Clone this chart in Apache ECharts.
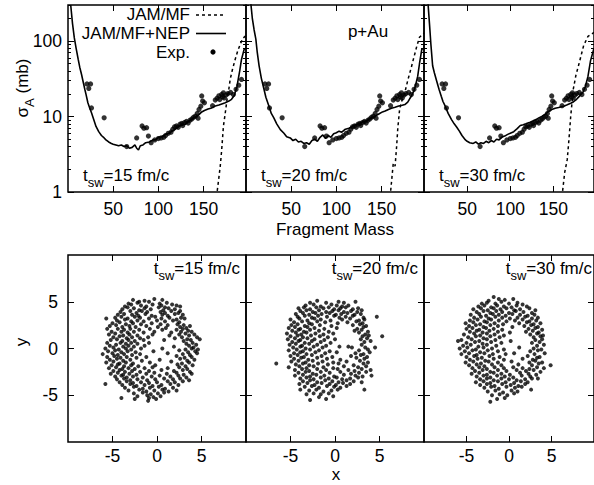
<!DOCTYPE html>
<html><head><meta charset="utf-8">
<script src="https://cdn.jsdelivr.net/npm/echarts@6/dist/echarts.min.js"></script>
<style>html,body{margin:0;padding:0;background:#fff}#c{width:594px;height:485px}</style>
</head><body><div id="c"></div>
<script>
// ---------- data ----------
const massTicks = [50, 100, 150];
const sigmaTicks = [1, 10, 100];
const sigmaMinorTicks = [2,3,4,5,6,7,8,9,20,30,40,50,60,70,80,90,200,300];
const posTicks = [-5, 0, 5];
const switchTimes = ['15', '20', '30'];
const legendNames = ['JAM/MF', 'JAM/MF+NEP', 'Exp.'];

const expData = [[21,27],[23,23.5],[25,27],[26,13],[40,9.6],[65,4.0],[76,5.2],[82,7.5],[84,7.0],[87,7.1],[89,5.5],[92,4.5],[96,4.9],[100,5.1],[103,5.2],[106,5.3],[108,5.6],[111,6.0],[114,6.2],[116,6.8],[118,7.3],[120,7.5],[122,7.2],[124,7.9],[126,8.1],[127,7.6],[129,8.3],[131,8.6],[133,8.2],[135,8.9],[137,9.3],[139,9.8],[141,10.1],[143,11.0],[144,9.5],[145,12.4],[147,13.7],[148,18.7],[149,16.0],[151,15.2],[160,13.9],[163,16.5],[165,17.5],[167,18.8],[168,16.8],[170,19.5],[171,18.2],[172,20.6],[173,17.6],[175,19.2],[177,20.1],[180,20.8],[183,19.5],[186,22.9],[189,26],[192,31]];

const mf15 = [[163,0.5],[165,1.0],[166.7,1.45],[168.5,2.2],[170,3.5],[172,7.4],[174,11],[176,16.9],[178,23],[179.5,31],[182,42],[185,57],[188,75],[191.5,96],[194,110],[197,118]];
const mf20 = [[159,0.6],[160,1.0],[162,1.8],[163,2.4],[165,2.2],[166.7,4],[168,7],[170,12.4],[172,15.5],[175.8,20.8],[179,30],[183,45],[186,62],[189,85],[192,112],[197,128]];
const mf30 = [[159,0.6],[160.5,1],[163,1.8],[166,2.7],[168,5],[170,10],[173,23],[176,35],[180,52],[185,87],[190,115],[197,130]];

const nep15 = [[3,300],[5,170],[7,110],[9,80],[11.3,57],[13,45],[15,36],[17,28],[18.6,23],[20,19.5],[22,15.2],[24,13],[26,11.2],[28,9.5],[31,7.4],[34,6.3],[37,5.6],[40,5.2],[42,4.9],[45,4.6],[48,4.4],[50,4.3],[53,4.2],[56,4.1],[59,4.2],[62,4.0],[65,4.1],[68,3.8],[71,3.9],[74,4.2],[76,3.8],[78,3.6],[80,4.1],[83,4.2],[86,4.5],[90,4.6],[94,4.9],[97,4.9],[100,5.3],[104,5.4],[108,5.8],[112,6.0],[115,6.4],[118,6.7],[121,7.1],[124,7.6],[127,7.8],[130,7.9],[133,8.6],[136,9.0],[139,9.5],[142,10.0],[145,10.6],[148,11.5],[151,12.0],[155,12.6],[159,13.0],[163,13.8],[167,14.2],[171,14.8],[174,15.2],[178,16.0],[181,16.9],[184,19],[187,25],[190,40],[192,57],[195,78],[197,80]];
const nep20 = [[5.4,310],[7,200],[9,140],[10.9,106],[12.5,70],[14.5,47],[17,32],[19.9,23],[22,18],[25.4,13.7],[28,11],[30.8,9.6],[34,8.0],[38,6.7],[42,6.0],[45,5.4],[49,5.2],[52,4.8],[55,5.0],[58,4.6],[61,4.7],[64,4.4],[67,4.5],[70,4.3],[73,4.8],[76,5.0],[79,4.7],[82,5.3],[85,5.7],[88,5.1],[91,5.6],[94,5.3],[97,5.9],[100,6.1],[103,6.4],[106,6.2],[110,6.8],[114,7.0],[118,7.4],[121,7.8],[125,8.0],[129,8.5],[133,8.8],[136,9.2],[139.5,9.6],[143,10.1],[147,10.8],[151,11.5],[154,11.8],[157.6,12.4],[161,12.9],[165,13.3],[169,13.8],[172,14.0],[175.8,14.4],[179,15.5],[183,18.7],[186,22],[188,27],[190,34],[192,50],[194.6,78],[197,80]];
const nep30 = [[4.7,310],[6.5,160],[8,90],[10,47],[12,38],[14.5,30],[17.4,23],[20,18.5],[22,15.8],[24.6,13.7],[28,11],[31.9,9.1],[35,8.0],[38,7.2],[41,6.4],[44,5.6],[48,4.9],[50,4.7],[53,4.5],[57,4.4],[60,4.6],[63,4.3],[66,4.5],[69,4.4],[72,4.7],[75,4.5],[78,4.8],[81,4.6],[84,5.0],[87,4.9],[90,5.3],[93.5,5.5],[97,5.8],[100,6.0],[104,6.3],[108,6.9],[111.6,7.6],[115,7.8],[118,8.0],[122,8.3],[126,8.7],[129.7,9.1],[133,9.6],[137,10.1],[141,10.8],[144,11.6],[148,12.4],[152,12.9],[156,13.2],[159,13.5],[162,13.7],[166,14.3],[170,15.0],[173,15.6],[176.8,16.9],[180,18.5],[184,20.8],[187,25],[190,34],[193,55],[197,80]];

const pos15 = [[-2.7,5.2],[-1.4,5.1],[-0.3,5.3],[0.6,5.2],[-2.0,5.0],
[-3.2,4.8],[-2.2,4.9],[-0.9,5.0],[0.3,4.8],[1.1,4.9],[1.7,4.7],
[-3.6,4.5],[-2.9,4.7],[-1.8,4.6],[-1.2,4.5],[-0.5,4.7],[0.5,4.6],[0.9,4.4],[2.2,4.6],[2.6,4.5],
[-3.9,4.2],[-3.3,4.4],[-2.6,4.3],[-2.0,4.1],[-1.4,4.3],[-0.7,4.2],[0.2,4.4],[0.7,4.1],[1.3,4.3],[2.0,4.2],[2.6,4.0],
[-4.1,3.9],[-3.0,4.0],[-2.3,3.8],[-1.7,4.0],[-1.1,3.9],[0.4,3.9],[0.9,3.8],[1.6,4.0],[2.4,3.8],[2.9,3.6],
[-4.4,3.6],[-3.7,3.7],[-2.8,3.6],[-2.1,3.5],[-1.3,3.7],[-0.6,3.5],[0.6,3.6],[1.2,3.5],[2.0,3.7],[2.7,3.3],
[-4.7,3.3],[-4.0,3.4],[-3.3,3.2],[-2.5,3.4],[-1.9,3.3],[-0.9,3.2],[-0.2,3.4],[0.5,3.2],[1.4,3.3],[2.2,3.1],[3.1,3.2],
[-5.7,3.2],[-4.5,3.0],[-3.6,3.1],[-2.9,2.9],[-2.2,3.0],[-1.5,2.9],[0.0,3.0],[0.9,2.9],[1.8,3.0],[2.5,2.8],
[-5.0,2.7],[-4.2,2.8],[-3.5,2.6],[-2.7,2.7],[-1.8,2.6],[-0.6,2.7],[0.4,2.6],[1.2,2.5],[2.3,2.6],[3.0,2.5],
[-5.3,2.4],[-4.6,2.5],[-3.9,2.3],[-3.1,2.4],[-2.4,2.3],[-1.2,2.4],[0.1,2.3],[1.0,2.2],[2.6,2.3],[3.3,2.2],[3.7,2.4],
[-5.6,2.1],[-4.4,2.1],[-3.7,2.0],[-3.0,2.1],[-2.0,2.0],[-0.8,2.1],[0.6,2.0],[2.2,2.0],[2.9,2.1],[3.5,1.9],
[-5.1,1.8],[-4.0,1.8],[-3.3,1.7],[-2.6,1.8],[-1.5,1.7],[-0.3,1.8],[1.6,1.7],[2.7,1.8],[3.2,1.6],[3.9,1.8],
[-5.4,1.5],[-4.7,1.6],[-3.8,1.4],[-3.1,1.5],[-2.2,1.4],[-0.5,1.5],[1.4,1.4],[2.5,1.5],[3.6,1.4],[4.2,1.5],
[-4.9,1.2],[-4.2,1.3],[-3.4,1.1],[-2.8,1.2],[-1.9,1.1],[-1.0,1.2],[2.0,1.1],[2.8,1.2],[3.4,1.0],[4.5,1.2],
[-5.2,0.9],[-4.5,1.0],[-3.9,0.8],[-3.2,0.9],[-2.5,0.8],[-1.5,0.9],[0.8,0.9],[3.0,0.8],[3.8,0.9],[4.8,1.0],
[-5.6,0.6],[-4.1,0.6],[-3.5,0.5],[-2.9,0.6],[-2.2,0.5],[-0.9,0.6],[3.3,0.5],[4.0,0.6],[4.4,0.4],
[-5.3,0.3],[-4.6,0.4],[-3.8,0.2],[-3.2,0.3],[-2.6,0.2],[-1.4,0.3],[1.9,0.2],[3.6,0.3],[4.1,0.1],
[-5.8,0.0],[-4.9,0.1],[-4.3,-0.1],[-3.5,0.0],[-2.9,-0.1],[-1.8,0.0],[0.6,0.0],[3.2,-0.1],[3.9,0.0],[4.6,-0.1],
[-5.5,-0.3],[-4.7,-0.2],[-4.0,-0.4],[-3.3,-0.3],[-2.4,-0.4],[-0.4,-0.3],[2.5,-0.2],[3.5,-0.4],[4.3,-0.3],
[-6.1,-0.6],[-5.0,-0.5],[-4.4,-0.7],[-3.7,-0.6],[-2.8,-0.7],[-1.9,-0.6],[1.2,-0.5],[2.9,-0.6],[3.7,-0.7],[4.5,-0.5],
[-5.6,-0.9],[-4.8,-0.8],[-4.1,-1.0],[-3.4,-0.9],[-2.3,-1.0],[-1.2,-0.9],[2.2,-0.8],[3.1,-1.0],[3.9,-0.9],
[-5.3,-1.2],[-4.5,-1.1],[-3.8,-1.3],[-3.0,-1.2],[-1.7,-1.3],[0.3,-1.2],[2.6,-1.1],[3.4,-1.3],[4.2,-1.2],
[-5.7,-1.5],[-4.9,-1.4],[-4.2,-1.6],[-3.5,-1.5],[-2.7,-1.6],[-0.8,-1.5],[1.6,-1.4],[2.8,-1.6],[3.6,-1.5],
[-5.1,-1.8],[-4.4,-1.7],[-3.7,-1.9],[-2.9,-1.8],[-2.1,-1.9],[-0.2,-1.8],[2.3,-1.7],[3.2,-1.9],[4.0,-1.8],
[-5.4,-2.1],[-4.6,-2.0],[-3.9,-2.2],[-3.2,-2.1],[-2.5,-2.2],[-1.4,-2.1],[-0.5,-2.0],[1.2,-2.1],[2.5,-2.0],[3.4,-2.2],
[-4.9,-2.4],[-4.2,-2.3],[-3.6,-2.5],[-2.8,-2.4],[-1.9,-2.5],[-0.9,-2.4],[0.5,-2.3],[1.9,-2.4],[2.9,-2.3],[3.7,-2.5],
[-5.2,-2.7],[-4.4,-2.6],[-3.8,-2.8],[-3.1,-2.7],[-2.3,-2.8],[-1.2,-2.7],[-0.3,-2.6],[1.1,-2.7],[2.2,-2.6],[3.0,-2.8],[3.9,-2.7],
[-4.7,-3.0],[-4.0,-2.9],[-3.4,-3.1],[-2.7,-3.0],[-1.6,-3.1],[-0.6,-3.0],[0.3,-2.9],[1.5,-3.0],[2.4,-2.9],[3.3,-3.1],
[-4.5,-3.3],[-3.7,-3.2],[-3.0,-3.4],[-2.2,-3.3],[-1.1,-3.4],[-0.2,-3.3],[0.8,-3.2],[1.8,-3.3],[2.6,-3.2],[3.6,-3.4],
[-4.2,-3.6],[-3.4,-3.5],[-2.7,-3.7],[-1.8,-3.6],[-0.9,-3.7],[0.0,-3.6],[1.2,-3.5],[2.0,-3.6],[2.9,-3.5],
[-5.8,-3.8],[-3.9,-3.9],[-3.0,-3.8],[-2.3,-4.0],[-1.4,-3.9],[-0.5,-4.0],[0.5,-3.9],[1.5,-3.8],[2.4,-3.9],
[-3.6,-4.2],[-2.6,-4.1],[-1.6,-4.3],[-0.8,-4.2],[0.2,-4.1],[0.9,-4.3],[1.8,-4.2],
[-3.2,-4.5],[-2.0,-4.4],[-1.2,-4.6],[-0.3,-4.5],[0.6,-4.4],[1.3,-4.6],[2.2,-4.5],
[-2.6,-4.8],[-1.6,-4.7],[-0.7,-4.9],[0.1,-4.8],[0.8,-4.7],
[-2.2,-5.1],[-1.1,-5.0],[-0.4,-5.2],[0.4,-5.1],
[-4.0,-5.3],[-2.5,-5.4],[-0.9,-5.3],[-0.1,-5.4],[-1.0,-5.6]];

const pos20 = [[-2.0,5.1],[-1.0,4.9],[0.4,5.0],[1.0,4.9],[2.3,5.0],[-2.8,4.9],
[-3.3,4.6],[-2.4,4.7],[-1.6,4.5],[-0.4,4.7],[0.2,4.6],[0.8,4.5],[1.5,4.6],
[-4.1,4.3],[-3.5,4.4],[-2.8,4.2],[-2.1,4.4],[-1.3,4.3],[-0.7,4.4],[-0.1,4.2],[0.6,4.3],[1.2,4.4],[2.0,4.2],[2.6,4.3],
[-3.9,4.0],[-3.2,4.1],[-2.5,3.9],[-1.8,4.1],[-1.0,3.9],[-0.3,4.0],[0.4,4.1],[1.0,3.9],[1.8,4.0],[2.5,3.9],[3.0,4.1],
[-4.4,3.7],[-3.6,3.8],[-2.9,3.6],[-2.2,3.8],[-1.5,3.7],[-0.6,3.8],[0.1,3.6],[0.7,3.7],[1.4,3.8],[2.2,3.6],[2.9,3.7],
[-4.2,3.4],[-3.4,3.5],[-2.6,3.3],[-1.9,3.5],[-0.9,3.4],[-0.1,3.5],[0.5,3.3],[1.2,3.4],[2.0,3.5],[3.2,3.3],[4.7,3.4],
[-5.0,3.1],[-4.0,3.2],[-3.1,3.0],[-2.3,3.2],[-1.6,3.1],[-0.5,3.0],[0.8,3.1],[1.7,3.2],[2.7,3.0],[3.3,3.1],
[-4.6,2.8],[-3.7,2.9],[-2.9,2.7],[-2.0,2.9],[-1.1,2.8],[0.3,2.7],[1.4,2.8],[2.4,2.9],[3.1,2.7],
[-4.9,2.5],[-4.2,2.6],[-3.4,2.4],[-2.6,2.6],[-1.7,2.5],[-0.4,2.4],[2.0,2.5],[2.8,2.6],[3.5,2.4],
[-5.2,2.2],[-4.5,2.3],[-3.9,2.1],[-3.1,2.3],[-2.3,2.2],[-1.2,2.1],[0.2,2.2],[2.5,2.1],[3.2,2.3],
[-4.8,1.9],[-4.1,2.0],[-3.5,1.8],[-2.8,2.0],[-1.8,1.9],[-0.7,1.8],[2.2,1.9],[3.0,2.0],[3.7,1.8],
[-5.4,1.6],[-4.4,1.7],[-3.8,1.5],[-3.2,1.7],[-2.2,1.6],[-1.3,1.5],[-0.2,1.6],[2.7,1.7],[3.4,1.5],
[-5.0,1.3],[-4.2,1.4],[-3.6,1.2],[-2.7,1.4],[-1.7,1.3],[-0.8,1.2],[3.1,1.3],[3.8,1.4],[5.3,1.3],
[-5.3,1.0],[-4.5,1.1],[-3.9,0.9],[-3.1,1.1],[-2.3,1.0],[-1.2,0.9],[0.0,1.0],[2.9,1.0],[3.6,1.1],
[-4.8,0.7],[-4.1,0.8],[-3.4,0.6],[-2.6,0.8],[-1.6,0.7],[-0.5,0.6],[3.3,0.7],[4.0,0.8],
[-5.1,0.4],[-4.4,0.5],[-3.7,0.3],[-2.9,0.5],[-2.0,0.4],[-1.0,0.3],[3.0,0.4],[4.5,0.1],
[-4.7,0.1],[-3.9,0.2],[-3.3,0.0],[-2.4,0.2],[-1.4,0.1],[0.5,0.2],[1.5,0.2],[1.9,0.1],[3.4,0.1],
[-5.2,-0.2],[-4.3,-0.1],[-3.6,-0.3],[-2.8,-0.1],[-1.8,-0.2],[-0.6,-0.3],[2.7,-0.2],[3.7,-0.1],
[-4.6,-0.5],[-3.9,-0.4],[-3.2,-0.6],[-2.2,-0.4],[-1.1,-0.5],[0.2,-0.4],[2.3,-0.5],[3.2,-0.6],[3.9,-0.4],
[-5.0,-0.8],[-4.2,-0.7],[-3.5,-0.9],[-2.6,-0.7],[-1.5,-0.8],[-0.3,-0.9],[1.8,-0.8],[2.9,-0.7],[3.6,-0.9],
[-4.6,-1.1],[-3.8,-1.0],[-3.0,-1.2],[-2.0,-1.0],[-0.9,-1.1],[0.6,-1.2],[2.4,-1.0],[3.3,-1.1],
[-4.9,-1.4],[-4.1,-1.3],[-3.3,-1.5],[-2.5,-1.3],[-1.4,-1.4],[-0.2,-1.5],[1.3,-1.4],[2.8,-1.3],[3.7,-1.5],
[-6.6,-1.6],[-4.4,-1.7],[-3.6,-1.6],[-2.9,-1.8],[-1.9,-1.6],[-0.8,-1.7],[0.4,-1.6],[2.1,-1.8],[3.2,-1.6],
[-5.2,-2.0],[-4.0,-1.9],[-3.2,-2.1],[-2.4,-1.9],[-1.3,-2.0],[-0.2,-2.1],[1.0,-1.9],[2.6,-2.0],[3.5,-1.9],
[-4.5,-2.3],[-3.7,-2.2],[-2.9,-2.4],[-2.0,-2.2],[-1.0,-2.3],[0.3,-2.2],[1.5,-2.3],[2.2,-2.4],[3.0,-2.2],[4.0,-2.3],
[-4.1,-2.6],[-3.3,-2.5],[-2.5,-2.7],[-1.6,-2.5],[-0.6,-2.6],[0.6,-2.5],[1.8,-2.7],[2.7,-2.6],[3.5,-2.5],
[-4.5,-2.9],[-3.6,-2.8],[-2.8,-3.0],[-2.1,-2.8],[-1.2,-2.9],[-0.1,-3.0],[1.0,-2.8],[2.3,-2.9],[3.1,-3.0],[4.1,-2.9],
[-3.9,-3.2],[-3.2,-3.1],[-2.4,-3.3],[-1.6,-3.1],[-0.7,-3.2],[0.2,-3.1],[0.8,-3.3],[1.7,-3.2],[2.6,-3.1],
[-3.6,-3.5],[-2.8,-3.4],[-2.0,-3.6],[-1.1,-3.4],[-0.3,-3.5],[0.4,-3.6],[1.3,-3.4],[2.1,-3.5],[3.0,-3.6],
[-4.0,-3.8],[-3.1,-3.7],[-2.3,-3.9],[-1.5,-3.7],[-0.6,-3.8],[0.1,-3.9],[0.9,-3.7],[1.7,-3.8],
[-3.4,-4.1],[-2.6,-4.0],[-1.8,-4.2],[-0.9,-4.0],[-0.1,-4.1],[0.6,-4.2],[1.3,-4.0],[3.3,-4.4],
[-3.9,-4.4],[-2.9,-4.5],[-2.1,-4.4],[-1.3,-4.6],[-0.4,-4.5],[0.3,-4.4],
[-3.2,-4.9],[-2.4,-4.8],[-1.6,-4.9],[-0.7,-4.8],
[-2.8,-5.5],[-1.0,-5.4],[-1.8,-5.2],[-0.2,-5.1]];

const pos30 = [[-1.8,5.5],[-1.2,5.3],[-0.5,5.2],[0.5,5.3],[-2.4,5.1],
[-3.2,4.8],[-2.6,4.9],[-1.6,4.8],[-0.9,5.0],[0.0,4.8],[1.0,4.9],[1.6,4.7],
[-3.6,4.5],[-2.9,4.6],[-2.1,4.4],[-1.4,4.6],[-0.6,4.5],[0.3,4.4],[0.9,4.6],[2.1,4.5],
[-4.2,4.2],[-3.3,4.3],[-2.5,4.1],[-1.8,4.3],[-1.0,4.2],[-0.3,4.3],[0.6,4.1],[1.3,4.2],[2.4,4.3],[3.1,4.1],
[-3.8,3.9],[-3.0,4.0],[-2.2,3.8],[-1.5,4.0],[-0.8,3.9],[0.0,3.8],[0.8,4.0],[1.7,3.9],[2.7,3.8],
[-4.5,3.6],[-3.5,3.7],[-2.7,3.5],[-1.9,3.7],[-1.2,3.6],[-0.4,3.5],[0.4,3.7],[1.3,3.6],[2.2,3.5],[3.0,3.6],
[-4.1,3.3],[-3.3,3.4],[-2.4,3.2],[-1.6,3.4],[-0.8,3.3],[0.1,3.2],[1.0,3.3],[1.9,3.4],[2.7,3.2],[3.4,3.3],
[-4.6,3.0],[-3.7,3.1],[-2.9,2.9],[-2.1,3.1],[-1.2,3.0],[-0.3,2.9],[0.7,3.0],[1.6,3.1],[2.4,2.9],[3.2,3.0],
[-5.1,2.7],[-4.2,2.8],[-3.4,2.6],[-2.6,2.8],[-1.7,2.7],[-0.7,2.6],[1.2,2.7],[2.1,2.8],[2.9,2.6],[3.7,2.7],
[-4.7,2.4],[-3.9,2.5],[-3.0,2.3],[-2.2,2.5],[-1.3,2.4],[0.4,2.3],[1.8,2.4],[2.6,2.5],[3.4,2.3],
[-5.0,2.1],[-4.3,2.2],[-3.5,2.0],[-2.7,2.2],[-1.8,2.1],[-0.8,2.0],[2.3,2.1],[3.1,2.2],[3.9,2.0],
[-4.6,1.8],[-3.8,1.9],[-3.1,1.7],[-2.3,1.9],[-1.3,1.8],[0.1,1.7],[2.0,1.8],[2.8,1.9],[3.5,1.7],
[-5.3,1.5],[-4.1,1.6],[-3.4,1.4],[-2.6,1.6],[-1.7,1.5],[-0.6,1.4],[2.5,1.5],[3.3,1.6],[4.0,1.4],
[-4.8,1.2],[-3.9,1.3],[-3.0,1.1],[-2.2,1.3],[-1.1,1.2],[2.9,1.2],[3.7,1.3],
[-5.6,0.9],[-4.4,1.0],[-3.5,0.8],[-2.6,1.0],[-1.6,0.9],[0.2,0.8],[3.1,0.9],[3.9,1.0],
[-6.0,0.8],[-5.0,0.6],[-4.0,0.7],[-3.1,0.5],[-2.1,0.7],[-0.9,0.6],[2.7,0.6],[3.6,0.7],
[-5.4,0.3],[-4.5,0.4],[-3.6,0.2],[-2.6,0.4],[-1.5,0.3],[3.3,0.3],[4.1,0.4],
[-5.8,0.0],[-4.9,0.1],[-3.9,-0.1],[-3.0,0.1],[-2.0,0.0],[-0.6,-0.1],[1.2,0.1],[2.9,0.0],[3.8,-0.1],
[-5.2,-0.3],[-4.3,-0.2],[-3.4,-0.4],[-2.5,-0.2],[-1.3,-0.3],[2.5,-0.3],[3.4,-0.2],
[-5.6,-0.6],[-4.7,-0.5],[-3.8,-0.7],[-2.9,-0.5],[-1.9,-0.6],[-0.4,-0.6],[0.6,-0.5],[3.0,-0.6],[4.2,-0.5],
[-5.0,-0.9],[-4.1,-0.8],[-3.2,-1.0],[-2.3,-0.8],[-1.1,-0.9],[2.2,-0.8],[3.6,-0.9],
[-4.6,-1.2],[-3.7,-1.1],[-2.8,-1.3],[-1.8,-1.1],[-0.6,-1.2],[1.6,-1.1],[2.8,-1.2],[3.3,-1.0],
[-5.1,-1.5],[-4.2,-1.4],[-3.3,-1.6],[-2.4,-1.4],[-1.3,-1.5],[0.3,-1.4],[2.4,-1.5],[3.1,-1.3],[3.9,-1.5],
[-4.7,-1.8],[-3.8,-1.7],[-2.9,-1.9],[-2.0,-1.7],[-0.9,-1.8],[1.1,-1.7],[2.7,-1.8],[3.5,-1.6],[4.9,-1.8],
[-4.3,-2.1],[-3.5,-2.0],[-2.6,-2.2],[-1.7,-2.0],[-0.6,-2.1],[0.5,-2.0],[1.6,-2.1],[2.4,-2.2],[3.3,-2.0],[4.1,-2.1],
[-4.0,-2.4],[-3.1,-2.3],[-2.2,-2.5],[-1.3,-2.3],[-0.3,-2.4],[0.9,-2.3],[2.0,-2.4],[2.9,-2.3],[3.7,-2.5],
[-4.4,-2.7],[-3.5,-2.6],[-2.6,-2.8],[-1.8,-2.6],[-0.9,-2.7],[0.1,-2.8],[1.3,-2.6],[2.3,-2.7],[3.2,-2.8],
[-3.8,-3.0],[-3.0,-2.9],[-2.2,-3.1],[-1.4,-2.9],[-0.5,-3.0],[0.5,-3.1],[1.5,-2.9],[2.5,-3.0],[3.4,-3.2],
[-3.4,-3.3],[-2.6,-3.2],[-1.8,-3.4],[-0.9,-3.2],[0.0,-3.3],[0.9,-3.4],[1.9,-3.3],[2.7,-3.2],
[-3.9,-3.6],[-3.0,-3.5],[-2.2,-3.7],[-1.3,-3.5],[-0.4,-3.6],[0.6,-3.7],[1.4,-3.5],[2.2,-3.6],
[-3.4,-3.9],[-2.6,-3.8],[-1.7,-4.0],[-0.8,-3.8],[0.2,-3.9],[1.1,-4.0],[1.9,-3.8],
[-2.9,-4.2],[-2.1,-4.1],[-1.2,-4.3],[-0.3,-4.1],[0.7,-4.2],[1.5,-4.1],[2.6,-4.4],
[-2.5,-4.6],[-1.6,-4.5],[-0.7,-4.7],[0.3,-4.5],[1.0,-4.6],
[-2.0,-5.0],[-1.1,-4.9],[-0.2,-5.0],[0.6,-4.8],
[-2.2,-5.7],[-1.4,-5.4],[-0.5,-5.3]];

const mfSets = [mf15, mf20, mf30];
const nepSets = [nep15, nep20, nep30];
const posSets = [pos15, pos20, pos30];

// ---------- layout ----------
const FONT = "'Liberation Sans', Arial, Helvetica, sans-serif";
const PW = 178, PH = 187, L0 = 68, TOP1 = 5, TOP2 = 255;
const grids = [], xAxes = [], yAxes = [], series = [];

function tick(len, vals) {
  return { show: true, inside: true, length: len, customValues: vals, lineStyle: { color: '#000', width: 1 } };
}
function lbl(show, vals, margin) {
  return { show: show, customValues: vals, fontSize: 17.5, lineHeight: 17, color: '#000', fontFamily: FONT, margin: margin,
    formatter: v => (vals.indexOf(Number(v)) >= 0 ? String(v) : '') };
}
function valueAxis(g, pos, min, max, interval, ticks, showLabel, margin) {
  return {
    type: 'value', gridIndex: g, position: pos, min: min, max: max, interval: interval,
    axisLine: { show: false, onZero: false }, axisTick: tick(6, ticks), axisLabel: lbl(showLabel, ticks, margin),
    splitLine: { show: false }, minorTick: { show: false }
  };
}

for (let i = 0; i < 3; i++) {
  // top panel
  let g = grids.length;
  grids.push({ left: L0 + PW * i, top: TOP1, width: PW, height: PH, show: true, borderColor: '#000', borderWidth: 1.5, backgroundColor: 'transparent' });
  const xi = xAxes.length;
  xAxes.push(valueAxis(g, 'bottom', 0, 197, 50, massTicks, true, 8));
  xAxes.push(valueAxis(g, 'top', 0, 197, 50, massTicks, false, 8));
  const yi = yAxes.length;
  const logAxis = (pos, ticks, len, show) => ({
    type: 'log', logBase: 10, gridIndex: g, position: pos, min: 1, max: 300,
    axisLine: { show: false, onZero: false }, axisTick: tick(len, ticks), axisLabel: lbl(show, ticks, 6),
    splitLine: { show: false }
  });
  yAxes.push(logAxis('left', sigmaTicks, 6, i === 0));
  yAxes.push(logAxis('right', sigmaTicks, 6, false));
  yAxes.push(logAxis('left', sigmaMinorTicks, 3, false));
  yAxes.push(logAxis('right', sigmaMinorTicks, 3, false));

  series.push({ name: legendNames[0], type: 'line', xAxisIndex: xi, yAxisIndex: yi, data: mfSets[i],
    showSymbol: false, symbol: 'none', clip: true, lineStyle: { color: '#000', width: 1.5, type: [3, 3] } });
  series.push({ name: legendNames[1], type: 'line', xAxisIndex: xi, yAxisIndex: yi, data: nepSets[i],
    showSymbol: false, symbol: 'none', clip: true, lineStyle: { color: '#000', width: 1.6 } });
  series.push({ name: legendNames[2], type: 'scatter', xAxisIndex: xi, yAxisIndex: yi, data: expData,
    symbol: 'circle', symbolSize: 5.2, itemStyle: { color: '#000' } });

  // bottom panel
  g = grids.length;
  grids.push({ left: L0 + PW * i, top: TOP2, width: PW, height: PH, show: true, borderColor: '#000', borderWidth: 1.5, backgroundColor: 'transparent' });
  const bx = xAxes.length;
  xAxes.push(valueAxis(g, 'bottom', -10, 10, 5, posTicks, true, 5));
  xAxes.push(valueAxis(g, 'top', -10, 10, 5, posTicks, false, 5));
  const by = yAxes.length;
  yAxes.push(valueAxis(g, 'left', -10, 10, 5, posTicks, i === 0, 10));
  yAxes.push(valueAxis(g, 'right', -10, 10, 5, posTicks, false, 10));
  series.push({ name: 't' + switchTimes[i], type: 'scatter', xAxisIndex: bx, yAxisIndex: by, data: posSets[i],
    symbol: 'circle', symbolSize: 4, itemStyle: { color: '#000' } });
}

// ---------- texts ----------
const rich = {
  a: { fontSize: 17, fontFamily: FONT, color: '#000' },
  s: { fontSize: 13, fontFamily: FONT, color: '#000', padding: [14, 0, 0, 0] }
};
function txt(x, y, text, align, extra) {
  return Object.assign({ type: 'text', x: x, y: y, silent: true,
    style: { text: text, fill: '#000', font: '17px ' + FONT, lineHeight: 17, align: align, verticalAlign: 'middle', rich: rich } }, extra || {});
}
const graphic = [];
// legend
graphic.push(txt(190, 14, legendNames[0], 'right'));
graphic.push(txt(190, 33, legendNames[1], 'right'));
graphic.push(txt(190, 52, legendNames[2], 'right'));
graphic.push({ type: 'line', silent: true, shape: { x1: 196, y1: 15, x2: 226, y2: 15 }, style: { stroke: '#000', lineWidth: 1.5, lineDash: [3, 3] } });
graphic.push({ type: 'line', silent: true, shape: { x1: 196, y1: 33.5, x2: 226, y2: 33.5 }, style: { stroke: '#000', lineWidth: 1.6 } });
graphic.push({ type: 'circle', silent: true, shape: { cx: 213, cy: 52, r: 2.6 }, style: { fill: '#000' } });
graphic.push(txt(368, 31, 'p+Au', 'center'));
// switching-time labels
for (let i = 0; i < 3; i++) {
  const label = '{a|t}{s|sw}{a|=' + switchTimes[i] + ' fm/c}';
  graphic.push(txt(L0 + PW * i + 15, 175, label, 'left'));
  graphic.push(txt(Math.min(L0 + PW * i + PW - 6, 592), 268, label, 'right'));
}
// axis titles
graphic.push(txt(335, 229, 'Fragment Mass', 'center'));
graphic.push(txt(336, 474, 'x', 'center'));
graphic.push(txt(22, 88, '{a|σ}{s|A}{a| (mb)}', 'center', { rotation: Math.PI / 2 }));
graphic.push(txt(21, 342, 'y', 'center', { rotation: Math.PI / 2 }));

const chart = echarts.init(document.getElementById('c'), null, { renderer: 'svg', width: 594, height: 485 });
chart.setOption({
  animation: false,
  backgroundColor: '#fff',
  textStyle: { fontFamily: FONT },
  grid: grids,
  xAxis: xAxes,
  yAxis: yAxes,
  series: series,
  graphic: graphic
});
</script>
</body></html>
